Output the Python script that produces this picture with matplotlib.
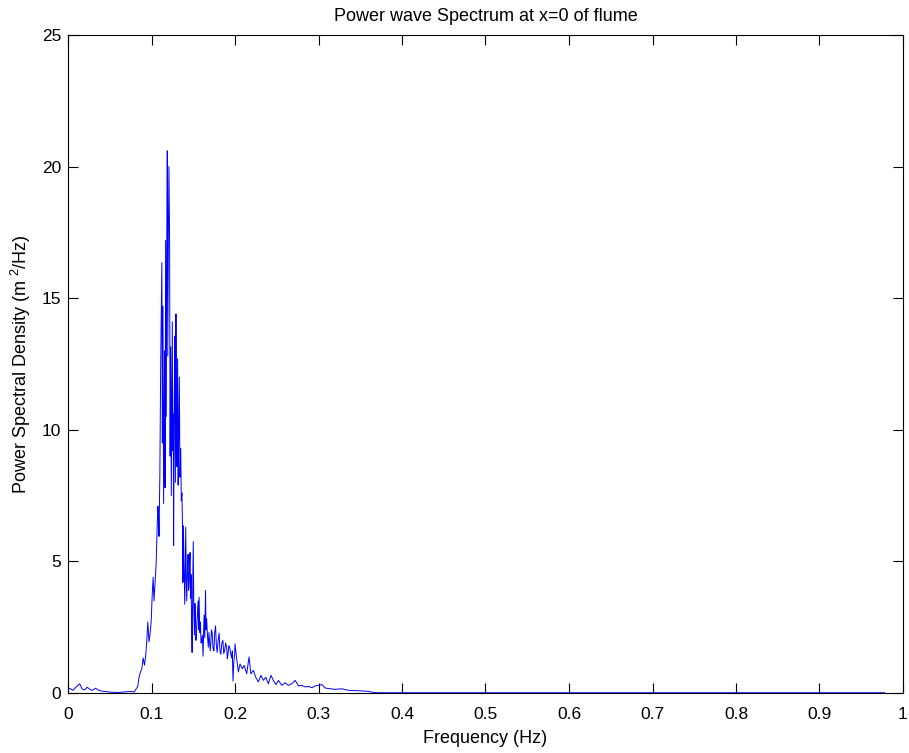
import numpy as np
import matplotlib
matplotlib.use("Agg")
import matplotlib.pyplot as plt

plt.rcParams['font.family'] = ['Liberation Sans', 'DejaVu Sans']
plt.rcParams['mathtext.fontset'] = 'custom'
plt.rcParams['mathtext.rm'] = 'Liberation Sans'
plt.rcParams['mathtext.it'] = 'Liberation Sans'

# spectrum (Hz, m^2/Hz)
freq_low = [0.0, 0.002, 0.006, 0.010, 0.014, 0.017, 0.020, 0.023, 0.026, 0.029,
            0.033, 0.037, 0.041, 0.046, 0.052, 0.060, 0.068, 0.075, 0.0795]
psd_low = [0.12, 0.18, 0.10, 0.24, 0.35, 0.15, 0.12, 0.22, 0.14, 0.10,
           0.18, 0.10, 0.07, 0.05, 0.03, 0.02, 0.04, 0.06, 0.04]

freq_rise = [0.082, 0.0835, 0.085, 0.0867, 0.0884, 0.090, 0.0916, 0.093, 0.0944,
             0.0956, 0.097, 0.0984, 0.0996, 0.1008, 0.102, 0.103, 0.1044, 0.1056,
             0.1066, 0.1076, 0.1084, 0.109, 0.110, 0.111]
psd_rise = [0.18, 0.24, 0.58, 0.79, 0.92, 1.33, 1.06, 1.40, 2.00,
            2.70, 1.94, 2.28, 2.70, 3.70, 4.40, 3.50, 4.30, 4.93,
            6.10, 7.10, 6.80, 5.95, 8.26, 12.5]

freq_peak = [0.1124, 0.1130, 0.1137, 0.1145, 0.1157, 0.1163, 0.1169, 0.1177, 0.1183,
             0.1189, 0.1195, 0.1203, 0.1209, 0.1217, 0.1223, 0.1230, 0.1237, 0.1249,
             0.1255, 0.1260, 0.1265, 0.1272, 0.1280, 0.1286, 0.1293, 0.1299, 0.1305,
             0.1313, 0.1319, 0.1325, 0.1333, 0.1341, 0.1350, 0.1357, 0.1364, 0.1370,
             0.1376, 0.1382, 0.1390, 0.1398, 0.1404, 0.1410, 0.1416, 0.1422, 0.1430,
             0.1438, 0.1444, 0.1450, 0.1456, 0.1462, 0.1468, 0.1474, 0.1480, 0.1486,
             0.1493, 0.1500, 0.1507, 0.1514, 0.1520, 0.1526, 0.1532, 0.1538, 0.1548,
             0.1558, 0.1564, 0.1570, 0.1578, 0.1586, 0.1593, 0.1600, 0.1609, 0.1618,
             0.1624, 0.1630, 0.1638, 0.1647, 0.1653, 0.1660, 0.1670, 0.1680, 0.1688,
             0.1695, 0.1703, 0.1710, 0.1718, 0.1727, 0.1737, 0.1747, 0.1757, 0.1767,
             0.1777, 0.1787, 0.1798, 0.1810, 0.1820, 0.1830, 0.1843, 0.1855, 0.1865,
             0.1875, 0.1888, 0.1900, 0.1908, 0.1916, 0.1926, 0.1936, 0.1948, 0.1960,
             0.1968, 0.1976, 0.1986, 0.1996]
psd_peak = [16.35, 9.5, 14.7, 7.2, 13.0, 7.8, 17.2, 10.5, 17.0,
            20.6, 12.8, 17.8, 20.0, 17.1, 9.0, 13.15, 7.5, 14.1,
            9.2, 10.6, 5.6, 11.0, 13.56, 8.0, 14.4, 10.2, 8.6,
            12.7, 7.9, 9.5, 12.0, 8.2, 9.3, 7.3, 7.6, 6.6,
            4.2, 6.36, 4.8, 3.37, 4.5, 6.3, 4.4, 3.5, 4.6,
            5.27, 3.9, 4.05, 4.9, 5.34, 3.6, 4.5, 2.6, 1.54,
            3.8, 5.75, 3.2, 2.2, 3.4, 3.1, 2.0, 2.28, 2.9,
            3.5, 2.4, 3.64, 2.3, 2.7, 1.9, 1.94, 2.2, 1.4,
            2.3, 2.96, 2.1, 3.9, 2.4, 2.83, 2.2, 1.74, 2.3,
            2.0, 1.6, 1.87, 2.4, 2.28, 1.7, 1.6, 2.3, 2.55,
            1.8, 1.54, 2.0, 2.28, 1.6, 1.47, 1.9, 2.0, 1.5,
            1.6, 1.9, 1.74, 1.3, 1.47, 1.8, 1.74, 1.5, 1.33,
            1.6, 0.45, 1.2, 1.47]

freq_tail = [0.2000, 0.2020, 0.2040, 0.2060, 0.2088, 0.2110, 0.2140, 0.2168, 0.2190,
             0.2220, 0.2248, 0.2280, 0.2310, 0.2340, 0.2368, 0.2400, 0.2430, 0.2460,
             0.2490, 0.2520, 0.2560, 0.2600, 0.2640, 0.2680, 0.2720, 0.2760, 0.2800,
             0.2840, 0.2880, 0.2920, 0.2960, 0.3000, 0.3040, 0.3080, 0.3140, 0.3200,
             0.3280, 0.3360, 0.3440, 0.3520, 0.3600, 0.3660, 0.3700, 0.4000, 0.5000,
             0.6000, 0.7000, 0.8000, 0.9000, 0.9780]
psd_tail = [1.87, 1.30, 0.80, 1.10, 0.92, 1.05, 0.73, 1.37, 0.73,
            0.86, 0.60, 0.42, 0.67, 0.48, 0.60, 0.35, 0.67, 0.48,
            0.32, 0.48, 0.29, 0.39, 0.29, 0.35, 0.48, 0.27, 0.29,
            0.23, 0.25, 0.20, 0.27, 0.29, 0.32, 0.19, 0.16, 0.14,
            0.16, 0.10, 0.09, 0.08, 0.06, 0.02, 0.01, 0.01, 0.01,
            0.01, 0.01, 0.01, 0.01, 0.01]

freq = np.array(freq_low + freq_rise + freq_peak + freq_tail)
psd = np.array(psd_low + psd_rise + psd_peak + psd_tail)

fig = plt.figure(figsize=(9.09, 7.53), dpi=100)
ax = fig.add_axes([68 / 909, 60 / 753, 835 / 909, 658 / 753])

ax.plot(freq, psd, color='#0000ff', linewidth=0.7)

ax.set_xlim(0, 1)
ax.set_ylim(0, 25)
ax.set_xticks(np.arange(0, 1.01, 0.1))
ax.set_xticklabels(['0', '0.1', '0.2', '0.3', '0.4', '0.5', '0.6', '0.7', '0.8', '0.9', '1'])
ax.set_yticks([0, 5, 10, 15, 20, 25])
ax.tick_params(direction='in', top=True, right=True, length=7, width=0.8,
               labelsize=12.5)
ax.tick_params(axis='x', pad=10)
ax.tick_params(axis='y', pad=5)
for s in ax.spines.values():
    s.set_linewidth(0.8)

ax.set_title('Power wave Spectrum at x=0 of flume', fontsize=13, pad=10)
ax.set_xlabel('Frequency (Hz)', fontsize=13, labelpad=6)
ax.set_ylabel('Power Spectral Density (m $^2$/Hz)', fontsize=13, labelpad=6)

fig.savefig('out.png', dpi=100)
